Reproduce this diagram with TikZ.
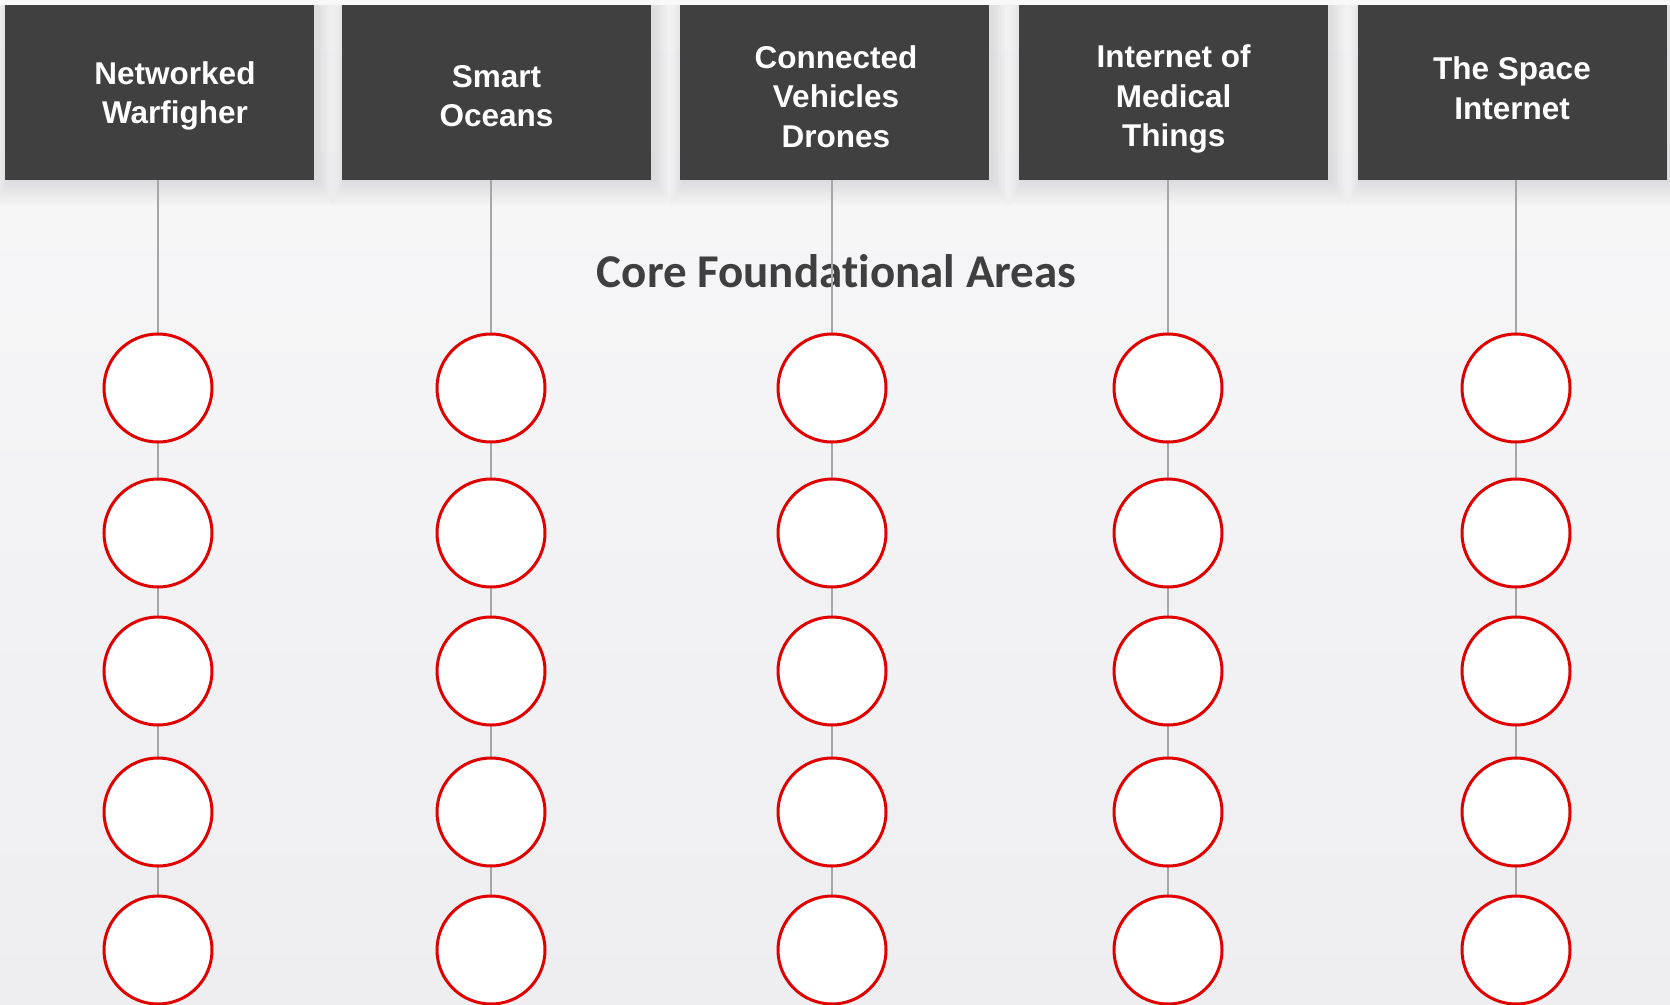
\documentclass[tikz,border=0pt]{standalone}
\usepackage{fontspec}
\setmainfont{Liberation Sans}
\newfontfamily\titlefont[Ligatures=NoCommon]{Carlito}
\definecolor{boxgray}{HTML}{404040}
\definecolor{linegray}{HTML}{A6A6A6}
\definecolor{ringred}{HTML}{E00000}
\definecolor{bgtop}{HTML}{F8F8F9}
\definecolor{bgbot}{HTML}{EEEEF1}
\definecolor{titlegray}{HTML}{3F3F3F}
\begin{document}
\begin{tikzpicture}[x=1pt,y=-1pt,
  topic/.style={fill=boxgray, draw=none, minimum width=309pt, minimum height=175pt,
    inner sep=0pt},
  softshade/.style={fill=black, fill opacity=0.009, draw=none},
  topictext/.style={text=white, font=\fontsize{31.5}{39.5}\selectfont\bfseries,
    align=center, inner sep=0pt},
  ring/.style={circle, draw=ringred, line width=3pt, fill=white,
    minimum size=108pt, inner sep=0pt},
  conn/.style={draw=linegray, line width=2pt}]
  % page background
  \shade[top color=bgtop, bottom color=bgbot] (0,0) rectangle (1670,1004);
  \useasboundingbox (0,0) rectangle (1670,1004);

  % soft drop shadows under the heading boxes
  \foreach \x in {159.6,496.5,834.8,1173.5,1512.5}{
    \foreach \k in {2,4,...,26}{
      \fill[softshade] (\x-154.5-0.6*\k+4, 5) rectangle (\x+154.5+0.7*\k+3, 180+\k);
    }
  }

  % heading boxes
  \node[topic] (b1) at (159.6,92.5) {};
  \node[topic] (b2) at (496.5,92.5) {};
  \node[topic] (b3) at (834.8,92.5) {};
  \node[topic] (b4) at (1173.5,92.5) {};
  \node[topic] (b5) at (1512.5,92.5) {};
  \node[topictext] (t1) at (175,96) {Networked\\Warfigher};
  \node[topictext] (t2) at (496.5,96) {Smart\\Oceans};
  \node[topictext] (t3) at (836,96.5) {Connected\\Vehicles\\Drones};
  \node[topictext] (t4) at (1173.7,99) {Internet of\\Medical\\Things};
  \node[topictext] (t5) at (1512,88) {The Space\\Internet};

  % section title
  \node[text=titlegray, font=\titlefont\fontsize{47}{56}\selectfont\bfseries, inner sep=0pt]
    (title) at (836.5,271) {Core Foundational Areas};

  % rings and connectors per column
  \foreach \c/\x in {1/158,2/491,3/832,4/1168,5/1516}{
    \foreach \r/\y in {1/388,2/533,3/671,4/812,5/950}{
      \coordinate (p\c-\r) at (\x,\y);
    }
    \draw[conn] (p\c-1) -- (p\c-1 |- b\c.south);
    \draw[conn] (p\c-1) -- (p\c-5);
    \foreach \r in {1,...,5}{
      \node[ring] (c\c-\r) at (p\c-\r) {};
    }
  }
\end{tikzpicture}
\end{document}
